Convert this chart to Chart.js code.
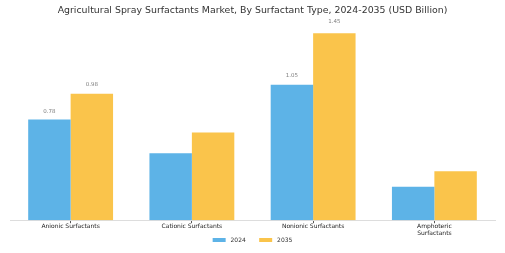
<!DOCTYPE html>
<html>
<head>
<meta charset="utf-8">
<script src="https://cdn.jsdelivr.net/npm/chart.js@4.4.1/dist/chart.umd.min.js"></script>
<style>
  html, body { margin: 0; padding: 0; background: #fff; }
  #wrap { width: 505px; height: 253px; }
</style>
</head>
<body>
<div id="wrap"><canvas id="barChart"></canvas></div>
<script>
const categories = [
  "Anionic Surfactants",
  "Cationic Surfactants",
  "Nonionic Surfactants",
  ["Amphoteric", "Surfactants"],
];
const values2024 = [0.78, 0.52, 1.05, 0.26];
const values2035 = [0.98, 0.68, 1.45, 0.38];
// only some bars carry a value label in the original
const shownLabels = [true, false, true, false];

const valueLabels = {
  id: "valueLabels",
  afterDatasetsDraw(chart) {
    const ctx = chart.ctx;
    const y = chart.scales.y;
    ctx.save();
    ctx.font = "5.5px 'DejaVu Sans'";
    ctx.fillStyle = "#808080";
    ctx.textAlign = "center";
    ctx.textBaseline = "middle";
    chart.data.datasets.forEach(function (ds, i) {
      chart.getDatasetMeta(i).data.forEach(function (bar, j) {
        if (!shownLabels[j]) return;
        const v = ds.data[j];
        ctx.fillText(v.toFixed(2), bar.x, y.getPixelForValue(v * 1.05 + 0.02));
      });
    });
    ctx.restore();
  },
};

const data = {
  labels: categories,
  datasets: [
    {
      label: "2024",
      data: values2024,
      backgroundColor: "#5DB3E7",
      categoryPercentage: 0.7,
      barPercentage: 1.0,
    },
    {
      label: "2035",
      data: values2035,
      backgroundColor: "#FAC44B",
      categoryPercentage: 0.7,
      barPercentage: 1.0,
    },
  ],
};

const config = {
  type: "bar",
  data: data,
  options: {
    responsive: true,
    maintainAspectRatio: false,
    animation: false,
    layout: { padding: { left: 10, right: 10, top: 0, bottom: 0 } },
    plugins: {
      title: {
        display: true,
        text: "Agricultural Spray Surfactants Market, By Surfactant Type, 2024-2035 (USD Billion)",
        color: "#333",
        font: { family: "DejaVu Sans", size: 9.4, weight: "normal" },
        padding: { top: 5, bottom: 4 },
      },
      legend: {
        position: "bottom",
        maxHeight: 17,
        labels: {
          boxWidth: 13,
          boxHeight: 4,
          padding: 0,
          color: "#333",
          font: { family: "DejaVu Sans", size: 6 },
          // keep the gaps between swatch, text and next item
          generateLabels: function (chart) {
            const items = Chart.defaults.plugins.legend.labels.generateLabels(chart);
            items.forEach(function (item, i) {
              item.text = " " + item.text + (i < items.length - 1 ? "       " : "");
            });
            return items;
          },
        },
      },
      tooltip: { enabled: false },
    },
    scales: {
      x: {
        grid: {
          display: true,
          drawOnChartArea: false,
          offset: false,
          tickLength: 3,
          tickColor: "#555",
        },
        border: { color: "#ddd" },
        ticks: {
          color: "#222",
          padding: 0,
          maxRotation: 0,
          font: { family: "DejaVu Sans", size: 6, lineHeight: 1.15 },
        },
      },
      y: {
        display: false,
        min: 0,
        max: 1.55,
      },
    },
  },
  plugins: [valueLabels],
};

const barChart = new Chart(document.getElementById("barChart"), config);
</script>
</body>
</html>
